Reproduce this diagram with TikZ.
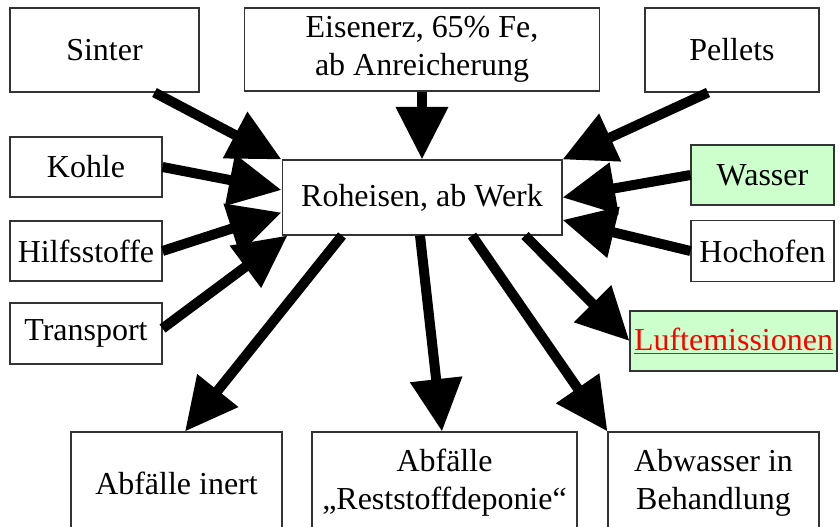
\documentclass[tikz,border=0pt]{standalone}
\usepackage{fontspec}
\setmainfont{Liberation Serif}
\usepackage{xcolor}
\usepackage{tikz}
\usetikzlibrary{arrows.meta}
\definecolor{hellgruen}{HTML}{CCFFCC}
\tikzstyle{tsText} = [ 
    text=black, 
    font=\fontsize{18.2pt}{21.6pt}\selectfont
]
\tikzstyle{tsBox} = [ 
    rectangle,
    tsText,
    align=center,
    inner sep=0pt,
    draw=black!80,
    line width=0.6pt,
    fill=white]
\tikzstyle{tsGreenBox} = [ 
    tsBox,
    fill=hellgruen]
\tikzstyle{tsArrow} = [ 
    line width=0.2cm,
    -{Triangle[length=1.05cm,width=1cm]}]

\begin{document}
\begin{tikzpicture}[x=0.02cm, y=-0.02cm]
        
        \useasboundingbox (0,0) rectangle (840,527);
        
        % Eingaenge
        \node[tsBox, minimum width=3.78cm, minimum height=1.68cm] (sinter) at (104.5,50) {Sinter};
        \node[tsBox, minimum width=7.12cm, minimum height=1.66cm] (erz) at (422,49.5) {Eisenerz, 65\% Fe,\\ab Anreicherung};
        \node[tsBox, minimum width=3.48cm, minimum height=1.68cm] (pellets) at (732,50) {Pellets};
        \node[tsBox, minimum width=3.04cm, minimum height=1.2cm] (kohle) at (86,167) {Kohle};
        \node[tsBox, minimum width=3.04cm, minimum height=1.2cm] (hilfs) at (86,251) {Hilfsstoffe};
        \node[tsBox, minimum width=3.04cm, minimum height=1.22cm] (transport) at (86,333.5) {Transport};
        \node[tsGreenBox, minimum width=2.86cm, minimum height=1.2cm] (wasser) at (762.5,175) {Wasser};
        \node[tsBox, minimum width=2.86cm, minimum height=1.22cm] (hochofen) at (762.5,251) {Hochofen};
        
        % Prozess
        \node[tsBox, minimum width=5.6cm, minimum height=1.5cm] (roheisen) at (422,197.5) {Roheisen, ab Werk};
        
        % Ausgaenge
        \node[tsGreenBox, minimum width=4.14cm, minimum height=1.2cm] (luft) at (733.5,341) {\color{red}\underline{Luftemissionen}};
        \node[tsBox, minimum width=4.22cm, minimum height=2.04cm] (inert) at (176.5,483) {Abfälle inert};
        \node[tsBox, minimum width=5.3cm, minimum height=2.04cm] (rest) at (444.5,483) {Abfälle\\„Reststoffdeponie“};
        \node[tsBox, minimum width=4.22cm, minimum height=2.04cm] (abwasser) at (713.5,483) {Abwasser in\\Behandlung};
        
        \draw[tsArrow] ([xshift=1cm]sinter.south) -- (roheisen.north west);
        \draw[tsArrow] (erz.south) -- (roheisen.north);
        \draw[tsArrow] ([xshift=-0.48cm]pellets.south) -- (roheisen.north east);
        \draw[tsArrow] (kohle.east) -- ([yshift=0.15cm]roheisen.west);
        \draw[tsArrow] (hilfs.east) -- ([yshift=-0.3cm]roheisen.west);
        \draw[tsArrow] ([yshift=0.1cm]transport.east) -- ([xshift=0.12cm]roheisen.south west);
        \draw[tsArrow] (wasser.west) -- (roheisen.east);
        \draw[tsArrow] (hochofen.west) -- ([yshift=-0.45cm]roheisen.east);
        
        \draw[tsArrow] ([xshift=2.06cm]roheisen.south) -- (luft.west);
        \draw[tsArrow] ([xshift=-1.6cm]roheisen.south) -- ([xshift=0.17cm]inert.north);
        \draw[tsArrow] ([xshift=-0.04cm]roheisen.south) -- ([xshift=-0.05cm]rest.north);
        \draw[tsArrow] ([xshift=1cm]roheisen.south) -- (abwasser.north west);
        
\end{tikzpicture}
\end{document}
